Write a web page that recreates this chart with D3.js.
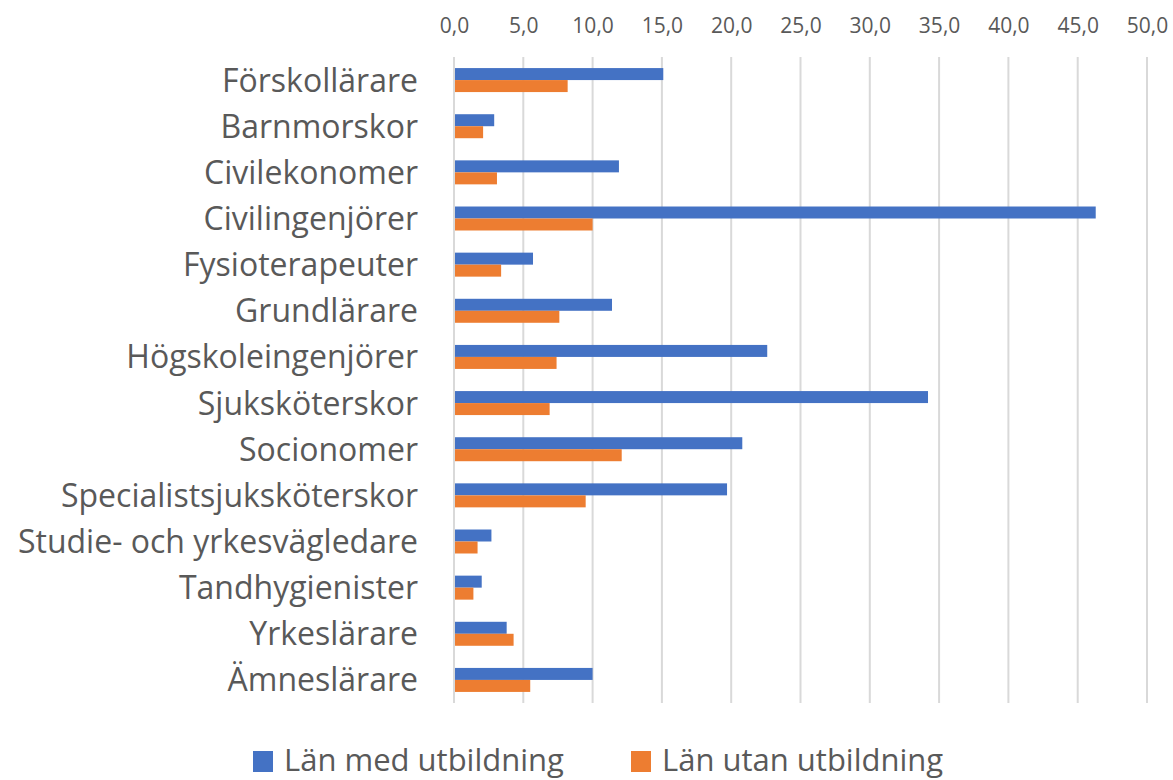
<!DOCTYPE html>
<html>
<head>
<meta charset="utf-8">
<script src="https://cdn.jsdelivr.net/npm/d3@7"></script>
<style>
  html, body { margin: 0; padding: 0; background: #ffffff; }
  svg { display: block; }
  text { font-family: "Open Sans", "Noto Sans", sans-serif; fill: #595959; }
</style>
</head>
<body>
<svg id="chart" width="1173" height="780"></svg>
<script>
const categories = [
  "Förskollärare", "Barnmorskor", "Civilekonomer", "Civilingenjörer",
  "Fysioterapeuter", "Grundlärare", "Högskoleingenjörer", "Sjuksköterskor",
  "Socionomer", "Specialistsjuksköterskor", "Studie- och yrkesvägledare",
  "Tandhygienister", "Yrkeslärare", "Ämneslärare"
];
const seriesNames = ["Län med utbildning", "Län utan utbildning"];
const medUtbildning  = [15.1, 2.9, 11.9, 46.3, 5.7, 11.4, 22.6, 34.2, 20.8, 19.7, 2.7, 2.0, 3.8, 10.0];
const utanUtbildning = [8.2, 2.1, 3.1, 10.0, 3.4, 7.6, 7.4, 6.9, 12.1, 9.5, 1.7, 1.4, 4.3, 5.5];
const tickValues = [0, 5, 10, 15, 20, 25, 30, 35, 40, 45, 50];
const colors = ["#4472c4", "#ed7d31"];

(function () {
const svg = d3.select("#chart");
const pLeft = 454, pRight = 1147, pTop = 57, pBottom = 703;

const x = d3.scaleLinear().domain([0, 50]).range([pLeft, pRight]);
const y = d3.scaleBand().domain(categories).range([pTop, pBottom]).paddingInner(0.48).paddingOuter(0.24);
const ySub = d3.scaleBand().domain(seriesNames).range([0, y.bandwidth()]);

// gridlines
svg.append("g").selectAll("line").data(tickValues).join("line")
  .attr("x1", d => x(d)).attr("x2", d => x(d))
  .attr("y1", pTop).attr("y2", pBottom)
  .attr("stroke", "#d9d9d9").attr("stroke-width", 2);

// top axis labels
const fmt = d => d.toFixed(1).replace(".", ",");
const axis = d3.axisTop(x).tickValues(tickValues).tickFormat(fmt).tickSize(0).tickPadding(0);
const gAxis = svg.append("g").attr("transform", "translate(0,33)").call(axis);
gAxis.select(".domain").remove();
gAxis.selectAll("text").attr("font-size", 21).attr("dy", 0)
  .style("font-family", "'Open Sans', sans-serif").attr("fill", "#595959");

// category labels
const yAxis = d3.axisLeft(y).tickSize(0).tickPadding(0);
const gY = svg.append("g").attr("transform", "translate(418,0)").call(yAxis);
gY.select(".domain").remove();
gY.selectAll("text").attr("font-size", 32).attr("dy", "0.36em")
  .style("font-family", "'Open Sans', sans-serif").attr("fill", "#595959");

// bars
const rows = categories.map((c, i) => ({ c, vals: [medUtbildning[i], utanUtbildning[i]] }));
const g = svg.append("g");
rows.forEach(r => {
  r.vals.forEach((v, j) => {
    g.append("rect")
      .attr("x", x(0) + 1)
      .attr("y", y(r.c) + ySub(seriesNames[j]))
      .attr("width", x(v) - x(0) - 1)
      .attr("height", ySub.bandwidth())
      .attr("fill", colors[j]);
  });
});

// legend
const legendItems = [
  { name: seriesNames[0], color: colors[0], x: 253 },
  { name: seriesNames[1], color: colors[1], x: 631 }
];
const lg = svg.append("g");
legendItems.forEach(it => {
  lg.append("rect").attr("x", it.x).attr("y", 751).attr("width", 20).attr("height", 21).attr("fill", it.color);
  lg.append("text").attr("x", it.x + 31).attr("y", 771).attr("font-size", 31).text(it.name);
});
})();
</script>
</body>
</html>
